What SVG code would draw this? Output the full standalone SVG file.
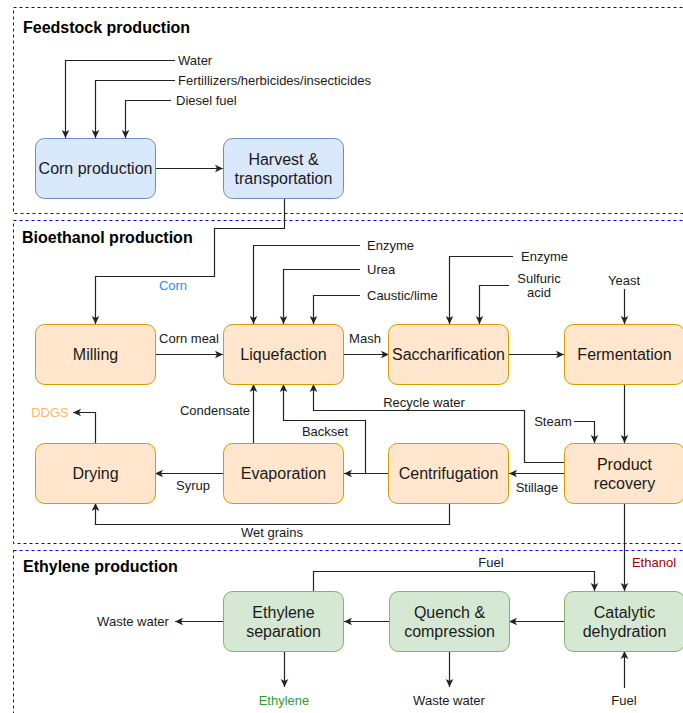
<svg xmlns="http://www.w3.org/2000/svg" width="683" height="713" viewBox="0 0 683 713">
<style>
text{font-family:"Liberation Sans",Arial,Helvetica,sans-serif;fill:#1a1a1a}
.sec{fill:none;stroke:#0000ff;stroke-width:1;stroke-dasharray:3,3}
.title{font-size:16px;font-weight:bold;fill:#000}
.n{font-size:16px;text-anchor:middle}
.l{font-size:13px}
.c{text-anchor:middle}
.blue rect{fill:#dae8fc;stroke:#6c8ebf}
.orange rect{fill:#ffe6cc;stroke:#d79b00}
.green rect{fill:#d5e8d4;stroke:#82b366}
#edges path{fill:none;stroke:#222;stroke-width:1.2;marker-end:url(#arr)}
</style>
<defs>
<marker id="arr" markerUnits="userSpaceOnUse" markerWidth="10" markerHeight="10" viewBox="0 0 10 10" refX="9" refY="5" orient="auto">
<path d="M1,1.2 L9,5 L1,8.8 L3,5 Z" fill="#222"/>
</marker>
</defs>
<rect width="683" height="713" fill="#fff"/>
<g id="sections">
<rect class="sec" x="13.5" y="7.5" width="700" height="206"/>
<rect class="sec" x="13.5" y="220.5" width="700" height="323"/>
<rect class="sec" x="13.5" y="550.5" width="700" height="180"/>
<text class="title" x="23" y="33">Feedstock production</text>
<text class="title" x="22" y="243">Bioethanol production</text>
<text class="title" x="23" y="572">Ethylene production</text>
</g>
<g id="edges">
<path d="M175,60.5 H65.5 V138"/>
<path d="M175,80.5 H95.5 V138"/>
<path d="M171,100.5 H125.5 V138"/>
<path d="M156,168.5 H223"/>
<path d="M284.5,198 V228.5 H214.5 V276.5 H95.5 V324"/>
<path d="M155,354.5 H223"/>
<path d="M360,245.5 H253.5 V324"/>
<path d="M360,269.5 H283.5 V324"/>
<path d="M360,295.5 H313.5 V324"/>
<path d="M344,354.5 H389"/>
<path d="M513,256.5 H449.5 V324"/>
<path d="M509,285.5 H479.5 V324"/>
<path d="M509,354.5 H564"/>
<path d="M624.5,289 V324"/>
<path d="M624.5,384 V443"/>
<path d="M574,421.5 H594.5 V443"/>
<path d="M564,462.5 H524.5 V410.5 H313.5 V384"/>
<path d="M564,473.5 H509"/>
<path d="M389,473.5 H344"/>
<path d="M365.5,473.5 V420.5 H283.5 V384"/>
<path d="M253.5,443 V384"/>
<path d="M223,473.5 H155"/>
<path d="M95.5,443 V412.5 H73"/>
<path d="M449.5,503 V524.5 H95.5 V503"/>
<path d="M624.5,503 V591"/>
<path d="M564,621.5 H509"/>
<path d="M389,621.5 H344"/>
<path d="M223,621.5 H175"/>
<path d="M284.5,651 V687"/>
<path d="M449.5,651 V687"/>
<path d="M624.5,688 V651"/>
<path d="M313.5,591 V571.5 H594.5 V591"/>
</g>
<g id="edge-labels">
<text class="l" x="178" y="64.5">Water</text>
<text class="l" x="178" y="84.5">Fertillizers/herbicides/insecticides</text>
<text class="l" x="176" y="104.5">Diesel fuel</text>
<text class="l c" x="173" y="289.5" style="fill:#2b8cff">Corn</text>
<text class="l c" x="189" y="342.5">Corn meal</text>
<text class="l" x="367" y="250">Enzyme</text>
<text class="l" x="367" y="274">Urea</text>
<text class="l" x="367" y="300">Caustic/lime</text>
<text class="l c" x="365" y="342.5">Mash</text>
<text class="l" x="521" y="260.5">Enzyme</text>
<text class="l c" x="539" y="282.5">Sulfuric</text>
<text class="l c" x="539" y="297">acid</text>
<text class="l c" x="624" y="284.5">Yeast</text>
<text class="l c" x="424" y="406.5">Recycle water</text>
<text class="l c" x="553" y="425.5">Steam</text>
<text class="l c" x="537" y="491.5">Stillage</text>
<text class="l c" x="325" y="435.5">Backset</text>
<text class="l c" x="215" y="414.5">Condensate</text>
<text class="l c" x="193" y="489.5">Syrup</text>
<text class="l c" x="50" y="416.5" style="fill:#ffb570">DDGS</text>
<text class="l c" x="272" y="536.5">Wet grains</text>
<text class="l c" x="654" y="566.5" style="fill:#a00000">Ethanol</text>
<text class="l c" x="491" y="566.5">Fuel</text>
<text class="l c" x="133" y="625.5">Waste water</text>
<text class="l c" x="284" y="704.5" style="fill:#2e9e2e">Ethylene</text>
<text class="l c" x="449" y="704.5">Waste water</text>
<text class="l c" x="624" y="704.5">Fuel</text>
</g>
<g id="corn-production" class="blue"><rect x="35.5" y="138.5" width="120" height="60" rx="9"/><text class="n" x="95.5" y="174">Corn production</text></g>
<g id="harvest" class="blue"><rect x="223.5" y="138.5" width="120" height="60" rx="9"/><text class="n" x="283.5" y="164.5">Harvest &amp;</text><text class="n" x="283.5" y="183.5">transportation</text></g>
<g id="milling" class="orange"><rect x="35.5" y="324.5" width="120" height="60" rx="9"/><text class="n" x="95.5" y="360">Milling</text></g>
<g id="liquefaction" class="orange"><rect x="223.5" y="324.5" width="120" height="60" rx="9"/><text class="n" x="283.5" y="360">Liquefaction</text></g>
<g id="saccharification" class="orange"><rect x="388.5" y="324.5" width="120" height="60" rx="9"/><text class="n" x="448.5" y="360">Saccharification</text></g>
<g id="fermentation" class="orange"><rect x="564.5" y="324.5" width="120" height="60" rx="9"/><text class="n" x="624.5" y="360">Fermentation</text></g>
<g id="drying" class="orange"><rect x="35.5" y="443.5" width="120" height="60" rx="9"/><text class="n" x="95.5" y="479">Drying</text></g>
<g id="evaporation" class="orange"><rect x="223.5" y="443.5" width="120" height="60" rx="9"/><text class="n" x="283.5" y="479">Evaporation</text></g>
<g id="centrifugation" class="orange"><rect x="388.5" y="443.5" width="120" height="60" rx="9"/><text class="n" x="448.5" y="479">Centrifugation</text></g>
<g id="product-recovery" class="orange"><rect x="564.5" y="443.5" width="120" height="60" rx="9"/><text class="n" x="624.5" y="469.5">Product</text><text class="n" x="624.5" y="488.5">recovery</text></g>
<g id="ethylene-separation" class="green"><rect x="223.5" y="591.5" width="120" height="60" rx="9"/><text class="n" x="283.5" y="617.5">Ethylene</text><text class="n" x="283.5" y="636.5">separation</text></g>
<g id="quench" class="green"><rect x="389.5" y="591.5" width="120" height="60" rx="9"/><text class="n" x="449.5" y="617.5">Quench &amp;</text><text class="n" x="449.5" y="636.5">compression</text></g>
<g id="catalytic-dehydration" class="green"><rect x="564.5" y="591.5" width="120" height="60" rx="9"/><text class="n" x="624.5" y="617.5">Catalytic</text><text class="n" x="624.5" y="636.5">dehydration</text></g>
</svg>
